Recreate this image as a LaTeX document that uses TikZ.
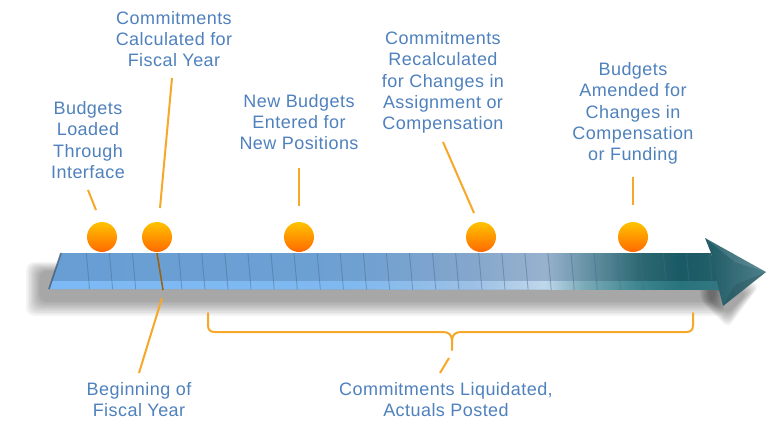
\documentclass[tikz,border=0pt]{standalone}
\usepackage{fontspec}
\setmainfont{Liberation Sans}[LetterSpace=2.5]
\usetikzlibrary{calc}
\definecolor{txt}{RGB}{79,129,189}
\definecolor{conn}{RGB}{247,168,40}
\definecolor{ticko}{RGB}{150,100,25}
\definecolor{dotT}{RGB}{255,195,0}
\definecolor{dotB}{RGB}{255,105,0}
\definecolor{sh0}{RGB}{104,158,212}
\definecolor{sh1}{RGB}{110,160,210}
\definecolor{sh2}{RGB}{132,166,204}
\definecolor{sh3}{RGB}{152,178,206}
\definecolor{sh4}{RGB}{105,148,168}
\definecolor{sh5}{RGB}{45,104,114}
\definecolor{sh6}{RGB}{25,90,100}
\definecolor{sh7}{RGB}{35,95,105}
\definecolor{bd0}{RGB}{125,185,245}
\definecolor{bd1}{RGB}{128,185,240}
\definecolor{bd2}{RGB}{155,192,230}
\definecolor{bd3}{RGB}{192,215,235}
\definecolor{bd4}{RGB}{120,170,182}
\definecolor{bd5}{RGB}{60,132,142}
\definecolor{bd6}{RGB}{40,115,125}
\definecolor{bd7}{RGB}{50,120,130}
\definecolor{hdL}{RGB}{30,90,100}
\definecolor{hdR}{RGB}{78,128,138}
\definecolor{tickc}{RGB}{70,105,140}
\pgfdeclarehorizontalshading{shaftshade}{100bp}{color(0bp)=(sh0); color(25bp)=(sh0); color(47.5bp)=(sh1); color(56.4bp)=(sh2); color(62bp)=(sh3); color(65bp)=(sh4); color(69.1bp)=(sh5); color(72.1bp)=(sh6); color(75bp)=(sh7); color(100bp)=(sh7)}
\pgfdeclarehorizontalshading{bandshade}{100bp}{color(0bp)=(bd0); color(25bp)=(bd0); color(47.5bp)=(bd1); color(56.4bp)=(bd2); color(62bp)=(bd3); color(65bp)=(bd4); color(69.1bp)=(bd5); color(72.1bp)=(bd6); color(75bp)=(bd7); color(100bp)=(bd7)}
\tikzset{
  lbl/.style={text=txt, align=center, font=\fontsize{18}{21.3}\selectfont, inner sep=0pt},
  conline/.style={draw=conn, line width=2pt},
  dot/.style={circle, minimum size=30pt, inner sep=0pt, top color=dotT, bottom color=dotB, draw=none},
  tickline/.style={draw=tickc, line width=0.9pt, opacity=0.45},
}
\begin{document}
\begin{tikzpicture}[x=1pt,y=-1pt]
\useasboundingbox (0,0) rectangle (780,426);
\fill[white] (0,0) rectangle (780,426);
% shadow
\foreach \k in {0,...,9}{
  \fill[black, opacity=0.04, rounded corners=8pt] ({26+1.5*\k},{262+\k}) rectangle ({724-\k},{316-1.6*\k});
  \fill[black, opacity=0.04, rounded corners=6pt] ({700+\k},{262+\k}) -- ({760-1.5*\k},{285+\k}) -- ({728},{328-1.6*\k}) -- ({700+\k},{300}) -- cycle;
}
% arrow
\coordinate (aTL) at (61,253);
\coordinate (aBL) at (49,289);
\coordinate (aTR) at (711,253);
\coordinate (hT) at (705,238);
\coordinate (hTip) at (766,272);
\coordinate (hB) at (723,306);
\coordinate (aBR) at (719,290);
\path[shading=shaftshade] (aBL) -- (aTL) -- (aTR) -- (716,272) -- (aBR) -- cycle;
\path[shading=bandshade] (52,281) -- (717,281) -- (aBR) -- (aBL) -- cycle;
\path[left color=hdL, right color=hdR] (aTR) -- (hT) -- (hTip) -- (hB) -- (aBR) -- cycle;
\fill[white, opacity=0.10] (hT) -- (hTip) -- (735,262) -- cycle;
\fill[black, opacity=0.10] (hB) -- (hTip) -- (735,285) -- cycle;
\begin{scope}
  \clip (aBL) -- (aTL) -- (aTR) -- (hT) -- (hTip) -- (hB) -- (aBR) -- cycle;
  \foreach \k in {0,1,2,4,5,...,28}{
    \draw[tickline] ({85+23.08*\k},238) -- ({90.5+23.08*\k},300);
  }
\end{scope}
\draw[line width=1.6pt, tickc!80!black, opacity=0.7] (aBL) -- (aTL);
\draw[draw=ticko, line width=1.6pt] (157,253) -- (163,290);
% dots
\node[dot] (d1) at (102,237) {};
\node[dot] (d2) at (157,237) {};
\node[dot] (d3) at (299,237) {};
\node[dot] (d4) at (481,237) {};
\node[dot] (d5) at (633,237) {};
% labels
\node[lbl] (t1) at (88,140) {Budgets\\Loaded\\Through\\Interface};
\node[lbl] (t2) at (174,39) {Commitments\\Calculated for\\Fiscal Year};
\node[lbl] (t3) at (299,122) {New Budgets\\Entered for\\New Positions};
\node[lbl] (t4) at (443,82.5) {Commitments\\Recalculated\\for Changes in\\Assignment or\\Compensation};
\node[lbl] (t5) at (633,113.5) {Budgets\\Amended for\\Changes in\\Compensation\\or Funding};
\node[lbl] (t6) at (139,399.5) {Beginning of\\Fiscal Year};
\node[lbl] (t7) at (446,399.5) {Commitments Liquidated,\\Actuals Posted};
% connector ends
\coordinate (c1a) at (88,190); \coordinate (c1b) at (96,210);
\coordinate (c2a) at (172,78); \coordinate (c2b) at (160,208);
\coordinate (c3a) at (299,168); \coordinate (c3b) at (299,206);
\coordinate (c4a) at (443,142); \coordinate (c4b) at (474,213);
\coordinate (c5a) at (633,177); \coordinate (c5b) at (633,205);
\coordinate (c6a) at (162,298); \coordinate (c6b) at (139,373);
\coordinate (c7a) at (449,358); \coordinate (c7b) at (440,373);
\draw[conline] (c1a) -- (c1b);
\draw[conline] (c2a) -- (c2b);
\draw[conline] (c3a) -- (c3b);
\draw[conline] (c4a) -- (c4b);
\draw[conline] (c5a) -- (c5b);
\draw[conline] (c6a) -- (c6b);
\draw[conline] (c7a) -- (c7b);
% brace
\coordinate (brL) at (208,313);
\coordinate (brR) at (693,313);
\coordinate (brM) at (452,350);
\draw[conline, line cap=round, line join=round] (brL) -- (208,325) .. controls (208,330) and (210,332) .. (215,332) -- (443,332) .. controls (449,332) and (452,335) .. (452,341) -- (brM);
\draw[conline, line cap=round, line join=round] (brR) -- (693,325) .. controls (693,330) and (691,332) .. (686,332) -- (461,332) .. controls (455,332) and (452,335) .. (452,341);
\end{tikzpicture}
\end{document}
